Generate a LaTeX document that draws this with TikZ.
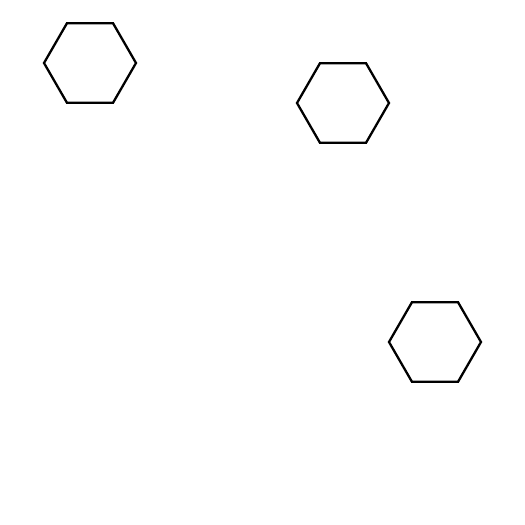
\documentclass[tikz,border=0pt]{standalone}
\begin{document}
\begin{tikzpicture}[x=0.02cm, y=-0.02cm, line width=1.3pt]
    % Khung hình
    \useasboundingbox (0,0) rectangle (525,525);
    
    % Ba lục giác đều
    \foreach \cx/\cy in {90/63, 343/103, 435/342}
        \draw (\cx,\cy) +(0:46) -- +(60:46) -- +(120:46) -- +(180:46)
            -- +(240:46) -- +(300:46) -- cycle;
    
\end{tikzpicture}
\end{document}
